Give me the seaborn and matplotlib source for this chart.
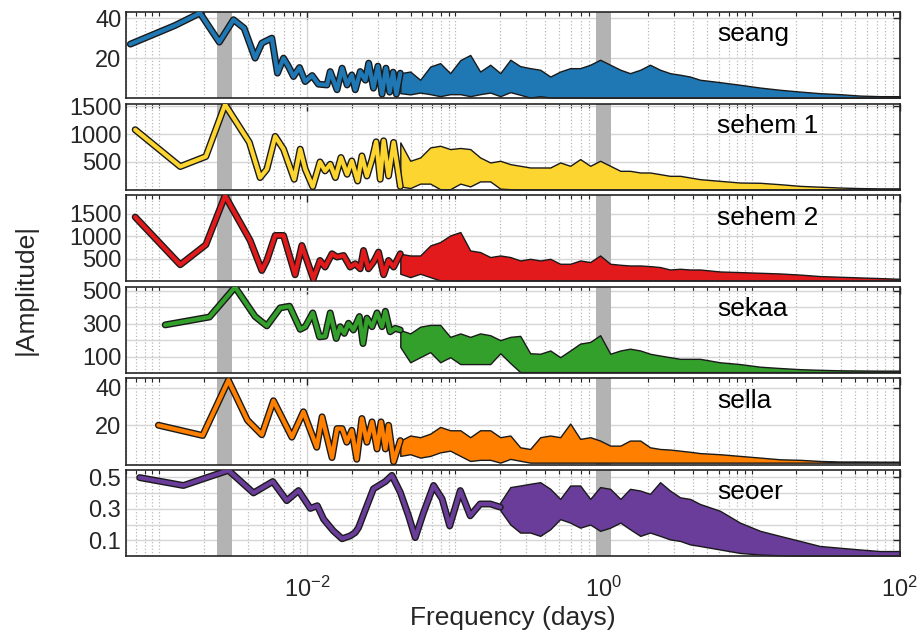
import numpy as np
import pandas as pd
import matplotlib
matplotlib.use("Agg")
import matplotlib.pyplot as plt
import matplotlib.patheffects as pe
from matplotlib.ticker import LogLocator, NullFormatter
import seaborn as sns

# low-frequency part of each spectrum (read point by point)
SEANG_F = [6.4e-4, 1.28e-3, 1.89e-3, 2.55e-3, 3.18e-3, 3.75e-3, 4.45e-3, 4.94e-3, 5.77e-3, 6.3e-3,
           6.92e-3, 7.48e-3, 8.08e-3, 8.87e-3, 9.69e-3, 1.08e-2, 1.19e-2, 1.36e-2, 1.43e-2, 1.59e-2,
           1.72e-2, 1.86e-2, 2.0e-2, 2.11e-2, 2.28e-2, 2.47e-2, 2.6e-2, 2.8e-2, 3.0e-2, 3.2e-2,
           3.4e-2, 3.6e-2, 3.8e-2, 4.0e-2, 4.25e-2]
SEANG_A = [27.0, 36.3, 42.5, 28.0, 39.2, 35.0, 20.0, 27.5, 30.0, 12.5,
           20.0, 15.8, 10.8, 15.3, 8.3, 11.3, 7.0, 6.6, 13.3, 4.2,
           15.0, 6.6, 11.6, 4.2, 13.3, 9.0, 17.5, 5.0, 16.0, 2.0,
           15.0, 3.0, 13.0, 2.0, 12.5]

SEHEM1_F = [6.9e-4, 1.39e-3, 2.07e-3, 2.79e-3, 4.07e-3, 4.81e-3, 5.34e-3, 6.08e-3, 6.92e-3, 8.17e-3,
            8.97e-3, 9.7e-3, 1.09e-2, 1.22e-2, 1.32e-2, 1.43e-2, 1.55e-2, 1.69e-2, 1.86e-2, 2.0e-2,
            2.19e-2, 2.34e-2, 2.53e-2, 2.74e-2, 2.92e-2, 3.11e-2, 3.28e-2, 3.54e-2, 3.83e-2, 4.25e-2]
SEHEM1_A = [1078, 417, 597, 1530, 850, 218, 368, 958, 729, 188,
            729, 368, 56, 500, 338, 458, 218, 579, 278, 518,
            157, 608, 247, 548, 861, 188, 879, 247, 850, 60]

SEHEM2_F = [6.9e-4, 1.39e-3, 2.07e-3, 2.79e-3, 4.12e-3, 4.94e-3, 5.34e-3, 6.08e-3, 6.92e-3, 8.29e-3,
            9.2e-3, 9.7e-3, 1.1e-2, 1.22e-2, 1.32e-2, 1.47e-2, 1.59e-2, 1.76e-2, 1.95e-2, 2.11e-2,
            2.28e-2, 2.4e-2, 2.59e-2, 2.8e-2, 3.03e-2, 3.28e-2, 3.54e-2, 3.83e-2, 4.25e-2]
SEHEM2_A = [1427, 368, 812, 1900, 907, 241, 463, 1018, 1018, 146,
            796, 574, 57, 463, 317, 612, 539, 574, 317, 390,
            279, 685, 279, 428, 650, 146, 463, 317, 612]

SEKAA_F = [1.1e-3, 2.19e-3, 3.26e-3, 4.45e-3, 5.34e-3, 6.57e-3, 7.6e-3, 8.97e-3, 9.7e-3, 1.09e-2,
           1.21e-2, 1.32e-2, 1.43e-2, 1.57e-2, 1.67e-2, 1.78e-2, 1.9e-2, 2.05e-2, 2.25e-2, 2.38e-2,
           2.53e-2, 2.74e-2, 2.96e-2, 3.2e-2, 3.37e-2, 3.63e-2, 3.93e-2, 4.25e-2]
SEKAA_A = [293, 341, 523, 344, 287, 397, 407, 266, 282, 366,
           220, 224, 366, 210, 282, 241, 303, 262, 344, 179,
           334, 282, 366, 282, 376, 251, 272, 262]

SELLA_F = [9.9e-4, 1.97e-3, 2.94e-3, 3.95e-3, 4.94e-3, 5.92e-3, 7.88e-3, 9.43e-3, 1.16e-2, 1.26e-2,
           1.47e-2, 1.59e-2, 1.72e-2, 1.85e-2, 2.0e-2, 2.16e-2, 2.34e-2, 2.53e-2, 2.74e-2, 2.96e-2,
           3.15e-2, 3.37e-2, 3.54e-2, 3.83e-2, 4.25e-2]
SELLA_A = [20.0, 14.5, 44.0, 22.7, 14.9, 33.1, 13.6, 27.2, 8.2, 24.5,
           2.7, 18.2, 18.2, 10.9, 17.3, 1.8, 23.6, 10.9, 21.8, 7.3,
           21.8, 7.3, 20.0, 0.5, 11.8]

SEOER_F = [7.4e-4, 1.46e-3, 2.94e-3, 4.34e-3, 5.86e-3, 7.28e-3, 8.74e-3, 1.05e-2, 1.17e-2, 1.29e-2,
           1.5e-2, 1.72e-2, 1.95e-2, 2.11e-2, 2.22e-2, 2.53e-2, 2.8e-2, 3.37e-2, 3.73e-2, 4.25e-2,
           4.83e-2, 5.36e-2, 6.1e-2, 7.13e-2, 8.14e-2, 9.16e-2, 0.108, 0.126, 0.147, 0.172, 0.201]
SEOER_A = [0.497, 0.447, 0.543, 0.40, 0.472, 0.351, 0.415, 0.302, 0.319, 0.234,
           0.16, 0.11, 0.128, 0.149, 0.18, 0.319, 0.426, 0.472, 0.511, 0.404,
           0.255, 0.117, 0.276, 0.447, 0.362, 0.191, 0.415, 0.255, 0.33, 0.33, 0.31]

# high-frequency part: dense oscillation, upper / lower envelope
BAND_F = [0.0425, 0.0496, 0.0579, 0.0677, 0.079, 0.0923, 0.108, 0.126, 0.147, 0.172,
          0.201, 0.235, 0.274, 0.32, 0.374, 0.437, 0.51, 0.596, 0.696, 0.813,
          0.949, 1.11, 1.30, 1.51, 1.77, 2.06, 2.41, 2.81, 3.29, 3.84,
          4.48, 6.11, 8.34, 11.4, 15.5, 21.2, 28.9, 39.4, 53.8, 73.4, 100]

SEANG_UP = [12.5, 13.3, 9.2, 15.8, 17.5, 12.5, 19.0, 21.6, 13.3, 16.7,
            12.5, 19.2, 16.0, 15.0, 14.2, 10.8, 13.3, 15.0, 15.0, 16.7,
            19.2, 16.7, 14.2, 12.5, 14.2, 16.7, 14.2, 12.5, 11.7, 10.8,
            9.2, 8.0, 6.7, 5.3, 4.2, 3.3, 2.5, 2.0, 1.3, 1.0, 1.0]
SEANG_LO = [2.5, 1.9, 2.8, 2.0, 1.0, 2.0, 2.0, 1.0, 2.0, 2.8,
            1.0, 3.0, 1.7, 0.3, 1.0, 0.3, 0.3, 0.3, 0.3, 0.2,
            0.2, 0.2, 0.2, 0.2, 0.2, 0.2, 0.2, 0.2, 0.2, 0.2,
            0.2, 0.2, 0.2, 0.2, 0.2, 0.2, 0.2, 0.2, 0.2, 0.2, 0.2]

SEHEM1_UP = [850, 520, 580, 760, 790, 730, 750, 730, 580, 490,
             520, 460, 430, 400, 400, 400, 490, 430, 550, 430,
             520, 430, 340, 340, 310, 310, 280, 250, 250, 220,
             190, 160, 130, 125, 100, 70, 55, 40, 30, 25, 25]
SEHEM1_LO = [60, 30, 110, 110, 10, 10, 110, 60, 150, 150,
             20, 10, 5, 5, 5, 5, 5, 5, 5, 5,
             5, 5, 5, 5, 5, 5, 5, 5, 5, 5,
             5, 5, 5, 5, 5, 5, 5, 5, 5, 5, 5]

SEHEM2_UP = [612, 574, 574, 796, 872, 1018, 1094, 685, 650, 539,
             574, 539, 463, 500, 463, 500, 390, 390, 463, 428,
             574, 390, 368, 352, 352, 338, 317, 263, 279, 263,
             263, 219, 205, 190, 175, 150, 117, 102, 87, 72, 57]
SEHEM2_LO = [168, 94, 168, 94, 20, 20, 20, 20, 20, 20,
             20, 20, 20, 20, 20, 20, 20, 20, 20, 20,
             20, 20, 20, 20, 20, 20, 20, 20, 20, 20,
             20, 20, 20, 20, 20, 20, 20, 20, 20, 20, 20]

SEKAA_UP = [262, 241, 282, 293, 293, 220, 241, 220, 241, 230,
            200, 220, 226, 120, 117, 137, 96, 137, 179, 189,
            230, 117, 137, 148, 137, 117, 106, 96, 86, 86,
            86, 65, 54, 38, 30, 23, 19, 16, 15, 14, 14]
SEKAA_LO = [158, 65, 96, 127, 65, 96, 54, 54, 54, 54,
            120, 60, 5, 5, 5, 5, 5, 5, 5, 5,
            5, 5, 5, 5, 5, 5, 5, 5, 5, 5,
            5, 5, 5, 5, 5, 5, 5, 5, 5, 5, 5]

SELLA_UP = [11.8, 14.5, 13.6, 15.5, 19.1, 17.3, 17.3, 13.6, 17.3, 17.3,
            13.6, 14.5, 8.2, 7.3, 13.6, 14.5, 13.6, 20.9, 12.7, 13.6,
            11.8, 9.1, 9.1, 11.8, 11.8, 8.2, 7.3, 7.0, 6.4, 5.8,
            5.1, 4.5, 3.6, 2.7, 1.8, 1.5, 0.9, 0.6, 0.6, 0.5, 0.5]
SELLA_LO = [3.6, 4.5, 2.7, 3.6, 5.5, 6.4, 3.6, 0.9, 1.5, 1.5,
            0.0, 2.0, 1.0, 0.0, 0.0, 0.0, 0.0, 0.0, 0.0, 0.0,
            0.0, 0.0, 0.0, 0.0, 0.0, 0.0, 0.0, 0.0, 0.0, 0.0,
            0.0, 0.0, 0.0, 0.0, 0.0, 0.0, 0.0, 0.0, 0.0, 0.0, 0.0]

SEOER_UP = [None, None, None, None, None, None, None, None, None, None,
            0.34, 0.437, 0.447, 0.458, 0.468, 0.426, 0.362, 0.447, 0.447, 0.362,
            0.437, 0.426, 0.362, 0.426, 0.415, 0.394, 0.468, 0.415, 0.372, 0.362,
            0.33, 0.287, 0.212, 0.16, 0.128, 0.096, 0.064, 0.053, 0.042, 0.032, 0.032]
SEOER_LO = [None, None, None, None, None, None, None, None, None, None,
            0.29, 0.2, 0.149, 0.149, 0.128, 0.17, 0.234, 0.212, 0.18, 0.2,
            0.16, 0.18, 0.212, 0.17, 0.128, 0.149, 0.128, 0.106, 0.096, 0.074,
            0.064, 0.042, 0.02, 0.01, 0.005, 0.003, 0.003, 0.003, 0.003, 0.003, 0.003]

# annual and daily cycle
GRAY_BANDS = [(2.45e-3, 3.1e-3), (0.89, 1.12)]

NAMES = ["seang", "sehem 1", "sehem 2", "sekaa", "sella", "seoer"]
COLORS = ["#1f78b4", "#fdd531", "#e31a1c", "#33a02c", "#ff7f00", "#6a3d9a"]

sns.set_theme(style="white")
plt.rcParams["font.family"] = ["Liberation Sans", "DejaVu Sans"]
plt.rcParams["mathtext.fontset"] = "custom"
plt.rcParams["mathtext.rm"] = "Liberation Sans"

panels = [
    (SEANG_F, SEANG_A, SEANG_UP, SEANG_LO, (0, 43), [20, 40], ["20", "40"]),
    (SEHEM1_F, SEHEM1_A, SEHEM1_UP, SEHEM1_LO, (0, 1545), [500, 1000, 1500], ["500", "1000", "1500"]),
    (SEHEM2_F, SEHEM2_A, SEHEM2_UP, SEHEM2_LO, (0, 1910), [500, 1000, 1500], ["500", "1000", "1500"]),
    (SEKAA_F, SEKAA_A, SEKAA_UP, SEKAA_LO, (0, 525), [100, 200, 300, 400, 500], ["100", "", "300", "", "500"]),
    (SELLA_F, SELLA_A, SELLA_UP, SELLA_LO, (-1, 45), [20, 40], ["20", "40"]),
    (SEOER_F, SEOER_A, SEOER_UP, SEOER_LO, (0, 0.545), [0.1, 0.2, 0.3, 0.4, 0.5], ["0.1", "", "0.3", "", "0.5"]),
]

fig, axes = plt.subplots(6, 1, figsize=(9.21, 6.37), dpi=100, sharex=True)
fig.subplots_adjust(left=0.137, right=0.977, top=0.981, bottom=0.127, hspace=0.064)

edge = "#1a1a1a"
for ax, name, col, (f, a, up, lo, ylim, yt, ytl) in zip(axes, NAMES, COLORS, panels):
    ax.set_xscale("log")
    for b0, b1 in GRAY_BANDS:
        ax.axvspan(b0, b1, color="#b3b3b3", lw=0, zorder=1)

    band = pd.DataFrame({"f": BAND_F, "up": up, "lo": lo}).dropna()
    ax.fill_between(band["f"], band["lo"].astype(float), band["up"].astype(float),
                    facecolor=col, edgecolor=edge, lw=1.0, zorder=2)
    sns.lineplot(x=f, y=a, ax=ax, color=col, lw=3.0, zorder=3,
                 path_effects=[pe.Stroke(linewidth=5.0, foreground=edge), pe.Normal()])

    ax.set_xlim(6e-4, 100)
    ax.set_ylim(*ylim)
    ax.set_yticks(yt)
    ax.set_yticklabels(ytl)
    ax.set_xticks([1e-2, 1, 1e2])
    ax.xaxis.set_minor_locator(LogLocator(base=10, subs=np.arange(1, 10), numticks=30))
    ax.xaxis.set_minor_formatter(NullFormatter())

    ax.grid(which="major", color="#d6d6d6", lw=1.0, ls="-", zorder=0)
    ax.grid(which="minor", axis="x", color="#b8b8b8", lw=0.9, ls=":", zorder=0)
    ax.set_axisbelow(True)
    ax.tick_params(which="both", direction="in", top=True, right=True, colors="#262626",
                   labelsize=17, labelcolor="#262626")
    ax.tick_params(which="major", length=5, width=1.0)
    ax.tick_params(which="minor", length=3, width=0.8)
    ax.tick_params(axis="x", which="major", pad=15)
    for s in ax.spines.values():
        s.set_color("#262626")
        s.set_linewidth(1.2)
    ax.set_xlabel("")
    ax.set_ylabel("")
    ax.text(0.764, 0.74, name, transform=ax.transAxes, ha="left", va="center",
            fontsize=19, color="black")

axes[-1].set_xlabel("Frequency (days)", fontsize=19, color="#262626", labelpad=3)
fig.text(0.028, 0.545, "|Amplitude|", rotation=90, ha="center", va="center",
         fontsize=19, color="#262626")

fig.savefig("out.png", dpi=100)
